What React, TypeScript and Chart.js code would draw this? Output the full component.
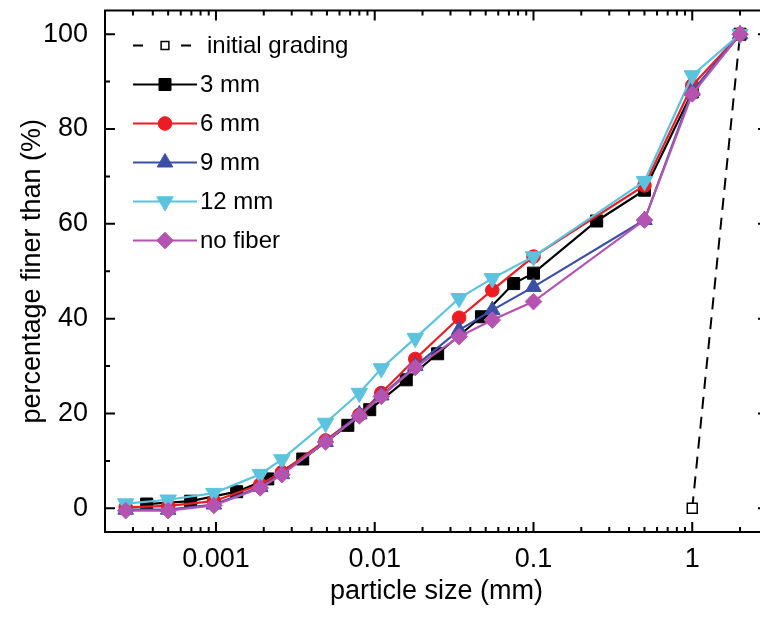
import React, { useEffect, useRef } from 'react';
import { Chart, registerables } from 'chart.js';

Chart.register(...registerables);

const FONT = "'Liberation Sans', Arial, sans-serif";

// ---- data (particle size in mm, percentage finer than %) ----
const initialSizes = [1, 2];
const initialValues = [0, 100];

const mm3Sizes = [0.000366, 0.000693, 0.00135, 0.00212, 0.00352, 0.00677, 0.0093, 0.0158, 0.0249, 0.047, 0.075, 0.1, 0.25, 0.5, 1, 2];
const mm3Values = [0.9, 1.5, 3.5, 6.2, 10.4, 17.5, 20.8, 27.1, 32.6, 40.4, 47.4, 49.6, 60.6, 67.1, 87.8, 100];

const laserSizes = [0.00027, 0.0005, 0.00097, 0.0019, 0.0026, 0.0049, 0.008, 0.011, 0.018, 0.034, 0.055, 0.1, 0.5, 1, 2];
const mm6Values = [0.2, 0.5, 1.5, 5.0, 7.6, 14.3, 19.7, 24.3, 31.5, 40.2, 46.0, 53.1, 68.1, 89.2, 100];
const mm9Values = [-0.3, -0.3, 0.8, 4.5, 7.2, 14.0, 19.8, 23.8, 30.0, 37.6, 41.8, 46.7, 60.8, 88.0, 100];
const mm12Values = [1.0, 1.8, 3.2, 7.2, 10.3, 18.0, 24.3, 29.5, 35.9, 44.3, 48.5, 53.1, 69.0, 91.3, 100];
const noFiberValues = [-0.5, -0.5, 0.6, 4.3, 7.1, 14.0, 19.5, 23.6, 29.7, 36.2, 39.7, 43.6, 60.8, 87.4, 100];

const seriesLabels = ['initial grading', '3 mm', '6 mm', '9 mm', '12 mm', 'no fiber'];

// ---- axes ----
const xMin = 0.0002;
const xMax = 3;
const yMin = -5;
const yMax = 105;
const xTickValues = [0.001, 0.01, 0.1, 1];
const xTickLabels = ['0.001', '0.01', '0.1', '1'];
const yTickValues = [0, 20, 40, 60, 80, 100];
const yTickLabels = ['0', '20', '40', '60', '80', '100'];

const pts = (xs: number[], ys: number[]) => xs.map((x, i) => ({ x, y: ys[i] }));

function drawMarker(ctx: CanvasRenderingContext2D, style: string, x: number, y: number, r: number, rotation: number, fill: string, stroke: string, lw: number) {
  ctx.save();
  ctx.beginPath();
  if (style === 'circle') {
    ctx.arc(x, y, r, 0, Math.PI * 2);
  } else if (style === 'rect') {
    const s = r * Math.SQRT1_2;
    ctx.rect(x - s, y - s, 2 * s, 2 * s);
  } else if (style === 'rectRot') {
    ctx.moveTo(x - r, y);
    ctx.lineTo(x, y - r);
    ctx.lineTo(x + r, y);
    ctx.lineTo(x, y + r);
    ctx.closePath();
  } else if (style === 'triangle') {
    let a = (rotation * Math.PI) / 180;
    ctx.moveTo(x + Math.sin(a) * r, y - Math.cos(a) * r);
    a += (2 * Math.PI) / 3;
    ctx.lineTo(x + Math.sin(a) * r, y - Math.cos(a) * r);
    a += (2 * Math.PI) / 3;
    ctx.lineTo(x + Math.sin(a) * r, y - Math.cos(a) * r);
    ctx.closePath();
  }
  ctx.fillStyle = fill;
  ctx.fill();
  ctx.lineWidth = lw;
  ctx.strokeStyle = stroke;
  ctx.stroke();
  ctx.restore();
}

const framePlugin = {
  id: 'frameTicksLegend',
  afterDraw(chart: any) {
    const { ctx, chartArea: a, scales } = chart;
    const xs = scales.x;
    const ys = scales.y;
    ctx.save();
    ctx.strokeStyle = '#000';
    ctx.lineWidth = 2;
    ctx.strokeRect(a.left, a.top, a.right - a.left, a.bottom - a.top);
    ctx.beginPath();
    for (let e = -4; e <= 0; e++) {
      for (let m = 1; m <= 9; m++) {
        const v = m * Math.pow(10, e);
        if (v < xMin * 0.999 || v > xMax * 1.001) continue;
        const px = xs.getPixelForValue(v);
        const len = m === 1 ? 10 : 5;
        ctx.moveTo(px, a.bottom);
        ctx.lineTo(px, a.bottom - len);
        ctx.moveTo(px, a.top);
        ctx.lineTo(px, a.top + len);
      }
    }
    for (let v = 0; v <= 100; v += 10) {
      const py = ys.getPixelForValue(v);
      const len = v % 20 === 0 ? 10 : 5;
      ctx.moveTo(a.left, py);
      ctx.lineTo(a.left + len, py);
      ctx.moveTo(a.right, py);
      ctx.lineTo(a.right - len, py);
    }
    ctx.stroke();

    // legend
    const x0 = a.left + 28;
    const x1 = a.left + 92;
    const xm = a.left + 60;
    let y = a.top + 35;
    ctx.font = `24px ${FONT}`;
    ctx.textBaseline = 'middle';
    ctx.textAlign = 'left';
    chart.data.datasets.forEach((ds: any) => {
      const dashed = ds.borderDash && ds.borderDash.length;
      ctx.save();
      ctx.strokeStyle = ds.borderColor;
      ctx.lineWidth = 2;
      ctx.beginPath();
      if (dashed) {
        ctx.moveTo(x0, y);
        ctx.lineTo(x0 + 10, y);
        ctx.moveTo(xm + 16, y);
        ctx.lineTo(xm + 26, y);
      } else {
        ctx.moveTo(x0, y);
        ctx.lineTo(x1, y);
      }
      ctx.stroke();
      ctx.restore();
      const hollow = ds.pointBackgroundColor === '#ffffff';
      drawMarker(ctx, ds.pointStyle, xm, y, hollow ? 5.5 : ds.pointRadius, ds.pointRotation || 0, ds.pointBackgroundColor, ds.pointBorderColor, ds.pointBorderWidth);
      ctx.fillStyle = '#000';
      ctx.fillText(ds.label, dashed ? a.left + 102 : a.left + 95, y + 1);
      y += 39;
    });
    ctx.restore();
  },
};

export default function App() {
  const ref = useRef<HTMLCanvasElement | null>(null);

  useEffect(() => {
    if (!ref.current) return;
    const mk = (label: string, data: any[], color: string, style: string, radius: number, order: number, extra: any = {}) => ({
      label,
      data,
      borderColor: color,
      backgroundColor: color,
      borderWidth: 2.2,
      pointStyle: style,
      pointRadius: radius,
      pointBackgroundColor: color,
      pointBorderColor: color,
      pointBorderWidth: 1,
      pointRotation: 0,
      tension: 0,
      order,
      ...extra,
    });
    const chart = new Chart(ref.current, {
      type: 'line',
      data: {
        datasets: [
          mk(seriesLabels[0], pts(initialSizes, initialValues), '#000000', 'rect', 7, 5, {
            borderDash: [12, 8],
            borderWidth: 2,
            pointBackgroundColor: '#ffffff',
            pointBorderWidth: 1.5,
          }),
          mk(seriesLabels[1], pts(mm3Sizes, mm3Values), '#000000', 'rect', 8.5, 4),
          mk(seriesLabels[2], pts(laserSizes, mm6Values), '#ec1c24', 'circle', 6.8, 3),
          mk(seriesLabels[3], pts(laserSizes, mm9Values), '#3a50a6', 'triangle', 9, 2),
          mk(seriesLabels[4], pts(laserSizes, mm12Values), '#5cc3de', 'triangle', 9.5, 1, { pointRotation: 180 }),
          mk(seriesLabels[5], pts(laserSizes, noFiberValues), '#b553b1', 'rectRot', 8.3, 0),
        ],
      },
      options: {
        responsive: false,
        maintainAspectRatio: false,
        animation: false,
        devicePixelRatio: 1,
        layout: { padding: { top: 8, right: 12, left: 0, bottom: 0 } },
        plugins: { legend: { display: false }, tooltip: { enabled: false } },
        scales: {
          x: {
            type: 'logarithmic',
            min: xMin,
            max: xMax,
            grid: { display: false },
            border: { display: false },
            afterBuildTicks: (s: any) => {
              s.ticks = xTickValues.map((v) => ({ value: v }));
            },
            afterFit: (s: any) => {
              s.height = 85;
              s.paddingLeft = 0;
              s.paddingRight = 0;
            },
            ticks: {
              autoSkip: false,
              maxRotation: 0,
              padding: 3,
              color: '#000',
              font: { family: FONT, size: 27 },
              callback: (_v: any, i: number) => xTickLabels[i],
            },
            title: {
              display: true,
              text: 'particle size (mm)',
              color: '#000',
              font: { family: FONT, size: 27 },
              padding: 9,
            },
          },
          y: {
            type: 'linear',
            min: yMin,
            max: yMax,
            grid: { display: false },
            border: { display: false },
            afterBuildTicks: (s: any) => {
              s.ticks = yTickValues.map((v) => ({ value: v }));
            },
            afterFit: (s: any) => {
              s.width = 105;
              s.paddingTop = 0;
              s.paddingBottom = 0;
            },
            ticks: {
              padding: 9,
              color: '#000',
              font: { family: FONT, size: 27 },
              callback: (_v: any, i: number) => yTickLabels[i],
            },
            title: {
              display: true,
              text: 'percentage finer than (%)',
              color: '#000',
              font: { family: FONT, size: 27 },
              padding: 16,
            },
          },
        },
      } as any,
      plugins: [framePlugin],
    });
    return () => chart.destroy();
  }, []);

  return (
    <div style={{ position: 'fixed', left: 0, top: 0, width: 760, height: 617, overflow: 'hidden', background: '#fff' }}>
      <canvas ref={ref} width={780} height={617} style={{ display: 'block', width: 780, height: 617 }} />
    </div>
  );
}
